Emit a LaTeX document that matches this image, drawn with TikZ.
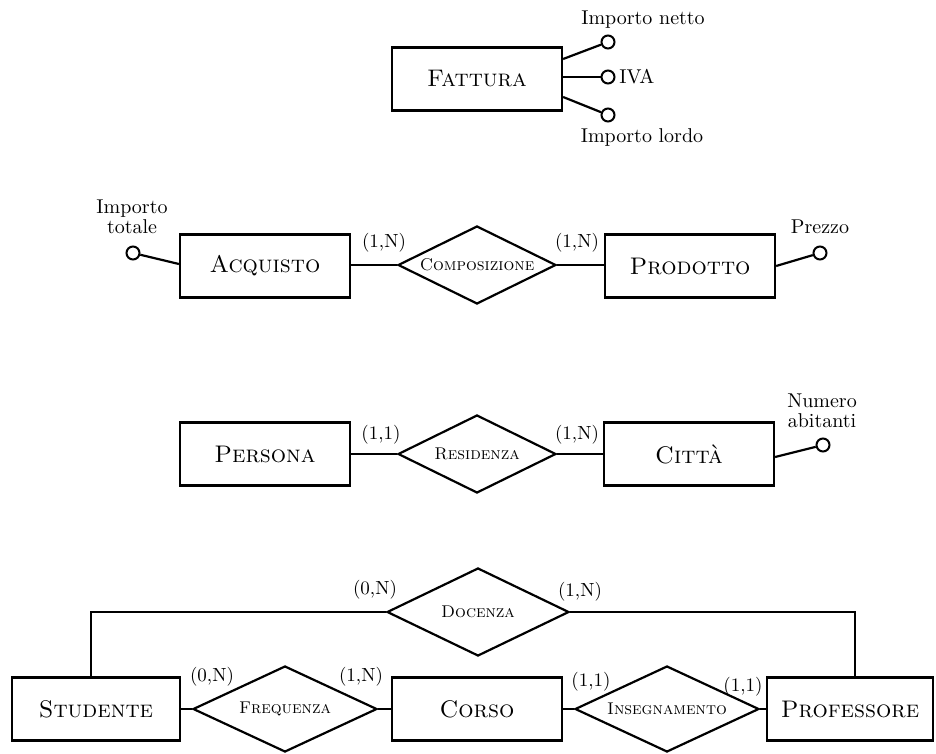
\documentclass[tikz,border=0pt]{standalone}
\usepackage{fontspec}
\usetikzlibrary{shapes.geometric}
\begin{document}
\begin{tikzpicture}[x=0.5pt,y=-0.5pt,
  entity/.style={draw, line width=1.1pt, minimum width=85pt, minimum height=31.5pt,
    inner sep=0pt, font=\fontsize{12}{13}\selectfont\scshape},
  relation/.style={draw, diamond, shape aspect=2.03, line width=1.1pt, inner sep=0pt,
    minimum width=79pt, minimum height=39pt, fill=white,
    font=\fontsize{8.5}{10}\selectfont\scshape},
  bigrel/.style={relation, shape aspect=2.14, minimum width=92pt, minimum height=43pt},
  attr/.style={draw, circle, line width=1pt, fill=white, minimum size=6.5pt, inner sep=0pt},
  attrlabel/.style={font=\fontsize{10}{9.8}\selectfont, inner sep=0pt, align=center},
  card/.style={font=\fontsize{9.5}{10}\selectfont, inner sep=0pt},
  link/.style={line width=1.1pt}]
\useasboundingbox (0,0) rectangle (936,754);

% ---- Fattura with its three attributes
\node[entity] (fat) at (477,79) {Fattura};
\node[attr] (netto) at (608,42) {};
\node[attr] (iva) at (608,77) {};
\node[attr] (lordo) at (608,115) {};
\draw[link] ([yshift=10pt]fat.east) -- (netto);
\draw[link] ([yshift=1pt]fat.east) -- (iva);
\draw[link] ([yshift=-9pt]fat.east) -- (lordo);
\node[attrlabel] (lnetto) at (643,20) {Importo netto};
\node[attrlabel, anchor=west] (liva) at (619,77) {IVA};
\node[attrlabel] (llordo) at (642,138) {Importo lordo};

% ---- Acquisto -- Composizione -- Prodotto
\node[entity] (acq) at (265,266) {Acquisto};
\node[relation] (comp) at (477,265) {Composizione};
\node[entity] (prod) at (690,266) {Prodotto};
\draw[link] (acq.east |- comp.west) -- (comp.west);
\draw[link] (comp.east) -- (prod.west |- comp.east);
\node[attr] (tot) at (133,253) {};
\draw[link] ([yshift=1pt]acq.west) -- (tot);
\node[attrlabel] (ltot) at (132,217) {Importo\\totale};
\node[attr] (prezzo) at (820,253) {};
\draw[link] (prod.east) -- (prezzo);
\node[attrlabel] (lprezzo) at (820,227) {Prezzo};
\node[card] (c1) at (384,243) {(1,N)};
\node[card] (c2) at (577,243) {(1,N)};

% ---- Persona -- Residenza -- Città
\node[entity] (per) at (265,454) {Persona};
\node[relation] (res) at (477,454) {Residenza};
\node[entity] (cit) at (689,454) {Città};
\draw[link] (per.east) -- (res.west);
\draw[link] (res.east) -- (cit.west);
\node[attr] (abit) at (823,445) {};
\draw[link] ([yshift=-1.5pt]cit.east) -- (abit);
\node[attrlabel] (labit) at (822,411) {Numero\\abitanti};
\node[card] (c3) at (381,435) {(1,1)};
\node[card] (c4) at (577,435) {(1,N)};

% ---- Studente, Corso, Professore
\node[entity, minimum width=84pt] (stu) at (96,709) {Studente};
\node[bigrel] (freq) at (285,709) {Frequenza};
\node[entity] (cor) at (477,709) {Corso};
\node[bigrel] (ins) at (667,709) {Insegnamento};
\node[entity, minimum width=83pt] (pro) at (850,709) {Professore};
\node[bigrel, shape aspect=2.07, minimum width=91pt, minimum height=44pt] (doc) at (478,612) {Docenza};
\draw[link] (stu.east) -- (freq.west);
\draw[link] (freq.east) -- (cor.west);
\draw[link] (cor.east) -- (ins.west);
\draw[link] (ins.east) -- (pro.west);
\draw[link] ([xshift=-2.5pt]stu.north) |- (doc.west);
\draw[link] (doc.east) -| ([xshift=2.5pt]pro.north);
\node[card] (c5) at (375,590) {(0,N)};
\node[card] (c6) at (580,592) {(1,N)};
\node[card] (c7) at (212,677) {(0,N)};
\node[card] (c8) at (361,677) {(1,N)};
\node[card] (c9) at (591,682) {(1,1)};
\node[card] (c10) at (743,687) {(1,1)};
\end{tikzpicture}
\end{document}
